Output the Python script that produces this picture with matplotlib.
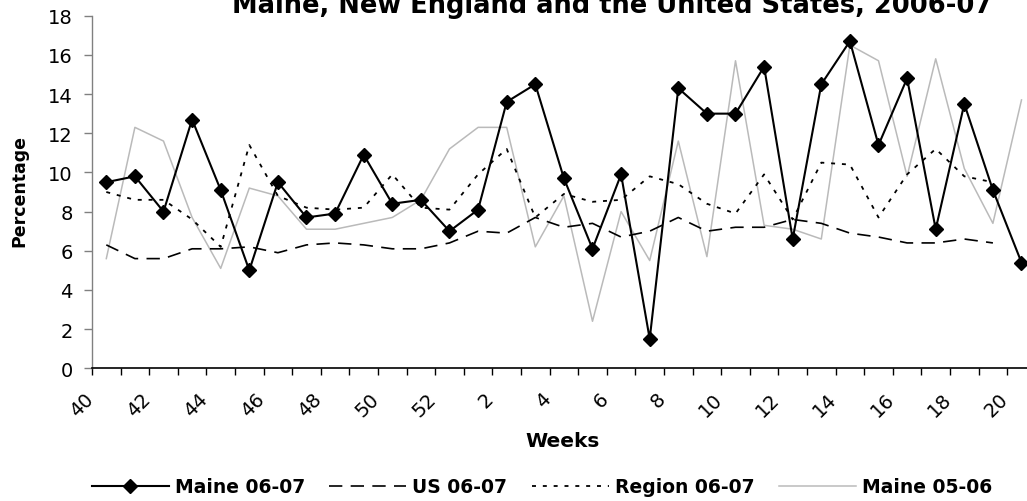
import matplotlib
matplotlib.use("Agg")
import matplotlib.pyplot as plt
import matplotlib.transforms as mtransforms
import numpy as np

plt.rcParams['font.family'] = ['DejaVu Sans']

# Surveillance weeks: week 40 of 2006 through week 20 of 2007
weeks = list(range(40, 53)) + list(range(1, 21))
week_labels = [str(w) if w % 2 == 0 else "" for w in weeks]

# Percentage of visits per week
maine_0607 = [9.5, 9.8, 8.0, 12.7, 9.1, 5.0, 9.5, 7.7, 7.9, 10.9, 8.4, 8.6, 7.0,
              8.1, 13.6, 14.5, 9.7, 6.1, 9.9, 1.5, 14.3, 13.0, 13.0, 15.4, 6.6,
              14.5, 16.7, 11.4, 14.8, 7.1, 13.5, 9.1, 5.4]
us_0607 = [6.3, 5.6, 5.6, 6.1, 6.1, 6.2, 5.9, 6.3, 6.4, 6.3, 6.1, 6.1, 6.4,
           7.0, 6.9, 7.7, 7.2, 7.4, 6.7, 7.0, 7.7, 7.0, 7.2, 7.2, 7.6,
           7.4, 6.9, 6.7, 6.4, 6.4, 6.6, 6.4]
region_0607 = [9.0, 8.6, 8.6, 7.6, 6.2, 11.4, 8.8, 8.2, 8.1, 8.2, 9.9, 8.2, 8.1,
               9.9, 11.2, 7.7, 8.9, 8.5, 8.6, 9.8, 9.4, 8.4, 7.9, 9.9, 7.6,
               10.5, 10.4, 7.7, 9.9, 11.2, 9.8, 9.5]
maine_0506 = [5.6, 12.3, 11.6, 7.7, 5.1, 9.2, 8.8, 7.1, 7.1, 7.4, 7.7, 8.6, 11.2,
              12.3, 12.3, 6.2, 8.8, 2.4, 8.0, 5.5, 11.6, 5.7, 15.7, 7.3, 7.1,
              6.6, 16.5, 15.7, 9.8, 15.8, 10.2, 7.4, 13.7]

title = "Maine, New England and the United States, 2006-07"

W, H = 1027, 502
fig = plt.figure(figsize=(W / 100, H / 100), dpi=100)
ax = fig.add_axes([92 / W, 1 - 369.3 / H, 943.8 / W, 352.6 / H])

x_all = np.arange(len(weeks))

gray = '#bababa'
l_m0506, = ax.plot(np.arange(len(maine_0506)), maine_0506, color=gray, lw=1.1,
                   zorder=2)
l_region, = ax.plot(np.arange(len(region_0607)), region_0607, color='black', lw=1.3,
                    dashes=(2.2, 3.8), zorder=3)
l_us, = ax.plot(np.arange(len(us_0607)), us_0607, color='black', lw=1.2,
                dashes=(8, 5), zorder=3)
l_m0607, = ax.plot(np.arange(len(maine_0607)), maine_0607, color='black', lw=1.5,
                   marker='D', markersize=7, markerfacecolor='black',
                   markeredgecolor='black', zorder=4)

ax.set_xlim(-0.5, len(weeks) - 0.5)
ax.set_ylim(0, 18)
ax.set_yticks(np.arange(0, 19, 2))

# Category axis: tick marks between categories, labels on the categories
ax.set_xticks(np.arange(-0.5, len(weeks) + 0.5, 1.0))
ax.set_xticklabels([])
ax.set_xticks(x_all, minor=True)
ax.set_xticklabels(week_labels, minor=True, rotation=45, fontsize=14,
                   ha='right', va='center', rotation_mode='anchor')
ax.tick_params(axis='x', which='minor', length=0, pad=0)
ax.tick_params(axis='x', which='major', length=5, width=1, color='black',
               direction='out')
ax.tick_params(axis='y', length=5.5, width=1, color='#808080', direction='out',
               labelsize=14, pad=8.5)

offset = mtransforms.ScaledTranslation(-16 / 100, -27 / 100, fig.dpi_scale_trans)
for lab in ax.get_xticklabels(minor=True):
    lab.set_transform(lab.get_transform() + offset)

for side in ('top', 'right'):
    ax.spines[side].set_visible(False)
ax.spines['left'].set_color('#808080')
ax.spines['left'].set_linewidth(1.0)
ax.spines['bottom'].set_color('black')
ax.spines['bottom'].set_linewidth(1.2)

fig.text(612 / W, 1 - 13 / H, title, ha='center', va='baseline',
         fontsize=18.5, fontweight='bold')
fig.text(563 / W, 1 - 442 / H, "Weeks", ha='center', va='center',
         fontsize=14.5, fontweight='bold')
fig.text(19 / W, 1 - 191 / H, "Percentage", ha='center', va='center',
         rotation=90, fontsize=12.5, fontweight='bold')

handles = [l_m0607, l_us, l_region, l_m0506]
labels = ["Maine 06-07", "US 06-07", "Region 06-07", "Maine 05-06"]
fig.legend(handles, labels, ncol=4, loc='center',
           bbox_to_anchor=(542 / W, 1 - 488 / H), frameon=False,
           prop={'weight': 'bold', 'size': 13.5}, handlelength=4.1,
           handletextpad=0.33, columnspacing=1.3, borderpad=0)

fig.savefig("out.png", dpi=100)
